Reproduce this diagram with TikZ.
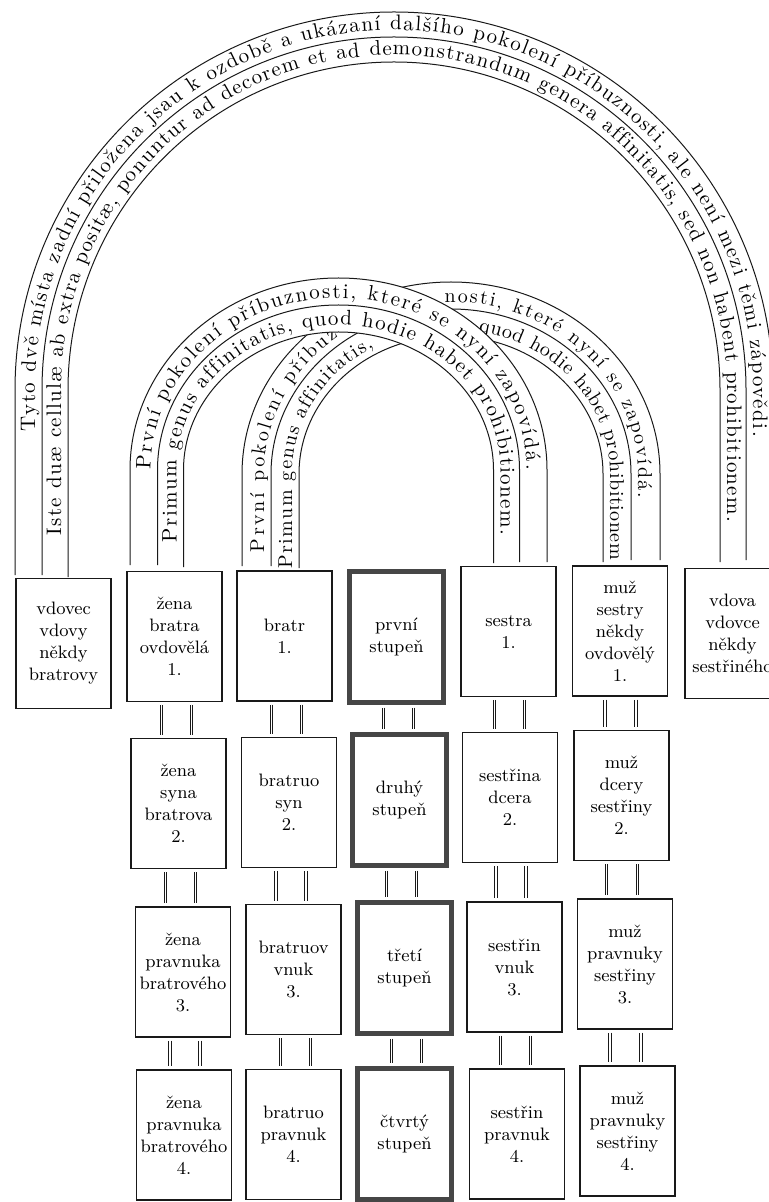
\documentclass[tikz,border=0pt]{standalone}
\definecolor{tabInk}{RGB}{25,25,25}
\definecolor{tabFrame}{RGB}{70,70,70}
\usepackage{tikz}
\usetikzlibrary{decorations.text}

\begin{document}
\begin{tikzpicture}[x=0.5pt, y=-0.5pt,
    cell/.style={draw=tabInk, line width=0.6pt, minimum width=47.5pt,
                 minimum height=65pt, inner sep=0pt, align=center,
                 font=\fontsize{9}{11}\selectfont},
    deg/.style={cell, draw=tabFrame, line width=2.5pt, minimum width=47pt,
                minimum height=65.5pt},
    rim/.style={draw=tabInk, line width=0.5pt},
    link/.style={draw=tabInk, double, line width=0.45pt, double distance=0.7pt,
                 shorten <=1.5pt, shorten >=1.5pt},
    bandtext/.style={decorate, decoration={text along path, text align=fit to path,
                 text={|\fontsize{10.5}{12}\selectfont|#1}}},
    smalltext/.style={decorate, decoration={text along path, text align=fit to path,
                 text={|\fontsize{10}{12}\selectfont|#1}}}
  ]
  \useasboundingbox (0,0) rectangle (769,1202);
  \clip (0,0) rectangle (769,1202);

  \draw[rim] (15,575) -- (15,390) arc[start angle=180, end angle=360, x radius=379, y radius=378] -- (773,560);
  \draw[rim] (42,575) -- (42,390) arc[start angle=180, end angle=360, x radius=352, y radius=353] -- (746,560);
  \draw[rim] (68,577) -- (68,390) arc[start angle=180, end angle=360, x radius=326, y radius=328] -- (720,562);
  \path[bandtext={Tyto dvě místa zadní přiložena jsau k ozdobě a ukázaní dalšího pokolení příbuznosti, ale není mezi těmi zápovědi.}]
    (35,432) -- (35,390) arc[start angle=180, end angle=360, x radius=359, y radius=360] -- (753,437);
  \path[bandtext={Iste duæ cellulæ ab extra positæ, ponuntur ad decorem et ad demonstrandum genera affinitatis, sed non habent prohibitionem.}]
    (61,535) -- (61,390) arc[start angle=180, end angle=360, x radius=333, y radius=335] -- (727,522);

  \draw[rim] (242,566) -- (242,474) arc[start angle=180, end angle=360, x radius=209, y radius=192] -- (660,560);
  \draw[rim] (271,566) -- (271,474) arc[start angle=180, end angle=360, x radius=180, y radius=165] -- (631,560);
  \draw[rim] (299,568) -- (299,474) arc[start angle=180, end angle=360, x radius=152, y radius=138] -- (603,562);
  \path[smalltext={První pokolení příbuz}]
    (264,552) -- (264,474) arc[start angle=180, end angle=233, x radius=187, y radius=172];
  \path[smalltext={nosti, které nyní se zapovídá.}]
    (444.5,302.1) arc[start angle=268, end angle=360, x radius=187, y radius=172] -- (638,498);
  \path[smalltext={Primum genus affinitatis,}]
    (292,568) -- (292,474) arc[start angle=180, end angle=241, x radius=159, y radius=145];
  \path[smalltext={quod hodie habet prohibitionem}]
    (478.6,331.2) arc[start angle=280, end angle=360, x radius=159, y radius=145] -- (610,560);

  \fill[white] (130,565) -- (130,470) arc[start angle=180, end angle=360, x radius=208.5, y radius=192]
    -- (547,565) -- (493.5,565) -- (493.5,470)
    arc[start angle=360, end angle=180, x radius=155, y radius=138] -- (183.5,565) -- cycle;
  \draw[rim] (130,565) -- (130,470) arc[start angle=180, end angle=360, x radius=208.5, y radius=192] -- (547,562);
  \draw[rim] (157.5,565) -- (157.5,470) arc[start angle=180, end angle=360, x radius=181, y radius=165] -- (519.5,562);
  \draw[rim] (183.5,567) -- (183.5,470) arc[start angle=180, end angle=360, x radius=155, y radius=138] -- (493.5,563);
  \path[bandtext={První pokolení příbuznosti, které se nyní zapovídá.}]
    (150.5,470) arc[start angle=180, end angle=360, x radius=188, y radius=172];
  \path[bandtext={Primum genus affinitatis, quod hodie habet prohibitionem.}]
    (176.5,542) -- (176.5,470) arc[start angle=180, end angle=360, x radius=162, y radius=145] -- (500.5,535);

  \node[cell] (v0) at (63.5,643.5) {vdovec\\vdovy\\někdy\\bratrovy};
  \node[cell] (z1) at (174.5,636.5) {žena\\bratra\\ovdovělá\\1.};
  \node[cell] (b1) at (284.5,636) {bratr\\1.};
  \node[deg]  (s1) at (396.5,636.5) {první\\stupeň};
  \node[cell] (e1) at (508.5,631.5) {sestra\\1.};
  \node[cell] (m1) at (620,631) {muž\\sestry\\někdy\\ovdovělý\\1.};
  \node[cell] (vd) at (732.5,633.5) {vdova\\vdovce\\někdy\\sestřiného};

  \node[cell] (z2) at (178.5,803.5) {žena\\syna\\bratrova\\2.};
  \node[cell] (b2) at (289,802.5) {bratruo\\syn\\2.};
  \node[deg]  (s2) at (399.5,799.5) {druhý\\stupeň};
  \node[cell] (e2) at (510,797.5) {sestřina\\dcera\\2.};
  \node[cell] (m2) at (621.5,795.5) {muž\\dcery\\sestřiny\\2.};

  \node[cell] (z3) at (183,972) {žena\\pravnuka\\bratrového\\3.};
  \node[cell] (b3) at (293.5,969.5) {bratruov\\vnuk\\3.};
  \node[deg]  (s3) at (404.5,967.5) {třetí\\stupeň};
  \node[cell] (e3) at (514.5,967) {sestřin\\vnuk\\3.};
  \node[cell] (m3) at (625,964) {muž\\pravnuky\\sestřiny\\3.};

  \node[cell] (z4) at (184,1135) {žena\\pravnuka\\bratrového\\4.};
  \node[cell] (b4) at (293.5,1134.5) {bratruo\\pravnuk\\4.};
  \node[deg]  (s4) at (404.5,1134) {čtvrtý\\stupeň};
  \node[cell] (e4) at (517,1134) {sestřin\\pravnuk\\4.};
  \node[cell] (m4) at (627.5,1131) {muž\\pravnuky\\sestřiny\\4.};

  \draw[link] ([xshift=-6.5pt]z1.south) -- ([xshift=-6.5pt]z1.south |- z2.north);
  \draw[link] ([xshift=8.5pt]z1.south) -- ([xshift=8.5pt]z1.south |- z2.north);
  \draw[link] ([xshift=-6.5pt]z2.south) -- ([xshift=-6.5pt]z2.south |- z3.north);
  \draw[link] ([xshift=8.5pt]z2.south) -- ([xshift=8.5pt]z2.south |- z3.north);
  \draw[link] ([xshift=-6.5pt]z3.south) -- ([xshift=-6.5pt]z3.south |- z4.north);
  \draw[link] ([xshift=8.5pt]z3.south) -- ([xshift=8.5pt]z3.south |- z4.north);

  \draw[link] ([xshift=-6.5pt]b1.south) -- ([xshift=-6.5pt]b1.south |- b2.north);
  \draw[link] ([xshift=8.5pt]b1.south) -- ([xshift=8.5pt]b1.south |- b2.north);
  \draw[link] ([xshift=-6.5pt]b2.south) -- ([xshift=-6.5pt]b2.south |- b3.north);
  \draw[link] ([xshift=8.5pt]b2.south) -- ([xshift=8.5pt]b2.south |- b3.north);
  \draw[link] ([xshift=-6.5pt]b3.south) -- ([xshift=-6.5pt]b3.south |- b4.north);
  \draw[link] ([xshift=8.5pt]b3.south) -- ([xshift=8.5pt]b3.south |- b4.north);

  \draw[link] ([xshift=-6.5pt]s1.south) -- ([xshift=-6.5pt]s1.south |- s2.north);
  \draw[link] ([xshift=8.5pt]s1.south) -- ([xshift=8.5pt]s1.south |- s2.north);
  \draw[link] ([xshift=-6.5pt]s2.south) -- ([xshift=-6.5pt]s2.south |- s3.north);
  \draw[link] ([xshift=8.5pt]s2.south) -- ([xshift=8.5pt]s2.south |- s3.north);
  \draw[link] ([xshift=-6.5pt]s3.south) -- ([xshift=-6.5pt]s3.south |- s4.north);
  \draw[link] ([xshift=8.5pt]s3.south) -- ([xshift=8.5pt]s3.south |- s4.north);

  \draw[link] ([xshift=-7pt]e1.south) -- ([xshift=-7pt]e1.south |- e2.north);
  \draw[link] ([xshift=8pt]e1.south) -- ([xshift=8pt]e1.south |- e2.north);
  \draw[link] ([xshift=-7pt]e2.south) -- ([xshift=-7pt]e2.south |- e3.north);
  \draw[link] ([xshift=8pt]e2.south) -- ([xshift=8pt]e2.south |- e3.north);
  \draw[link] ([xshift=-7pt]e3.south) -- ([xshift=-7pt]e3.south |- e4.north);
  \draw[link] ([xshift=8pt]e3.south) -- ([xshift=8pt]e3.south |- e4.north);

  \draw[link] ([xshift=-7.5pt]m1.south) -- ([xshift=-7.5pt]m1.south |- m2.north);
  \draw[link] ([xshift=8pt]m1.south) -- ([xshift=8pt]m1.south |- m2.north);
  \draw[link] ([xshift=-7.5pt]m2.south) -- ([xshift=-7.5pt]m2.south |- m3.north);
  \draw[link] ([xshift=8pt]m2.south) -- ([xshift=8pt]m2.south |- m3.north);
  \draw[link] ([xshift=-7.5pt]m3.south) -- ([xshift=-7.5pt]m3.south |- m4.north);
  \draw[link] ([xshift=8pt]m3.south) -- ([xshift=8pt]m3.south |- m4.north);
\end{tikzpicture}
\end{document}
